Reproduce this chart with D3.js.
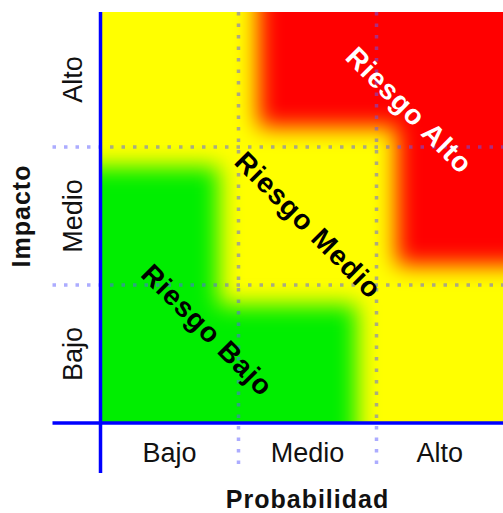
<!DOCTYPE html>
<html>
<head>
<meta charset="utf-8">
<script src="https://cdn.jsdelivr.net/npm/d3@7"></script>
<style>
  body { margin: 0; background: #fff; }
  svg { display: block; }
  text { font-family: "Liberation Sans", Arial, sans-serif; }
</style>
</head>
<body>
<svg id="chart"></svg>
<script>
// Probabilidad (x, left to right) and Impacto (y, top to bottom)
const probLevels = ["Bajo", "Medio", "Alto"];
const impactLevels = ["Alto", "Medio", "Bajo"];

// risk level per cell: rows = impacto (Alto..Bajo), cols = probabilidad (Bajo..Alto)
const riskMatrix = [
  ["Medio", "Alto", "Alto"],
  ["Bajo", "Medio", "Alto"],
  ["Bajo", "Bajo", "Medio"]
];

const riskLevels = ["Bajo", "Medio", "Alto"];
const riskLabels = ["Riesgo Bajo", "Riesgo Medio", "Riesgo Alto"];

const xTitle = "Probabilidad";
const yTitle = "Impacto";

const width = 503, height = 513;
const svg = d3.select("#chart").attr("width", width).attr("height", height);

const cell = 138;
const plot = { left: 100.5, top: 12, right: 503, bottom: 423 };

const x = d3.scaleBand().domain(probLevels).range([plot.left, plot.left + 3 * cell]);
const y = d3.scaleBand().domain(impactLevels).range([plot.bottom - 3 * cell, plot.bottom]);

const colors = { Bajo: "#00ee00", Medio: "#ffff00", Alto: "#ff0000" };

const defs = svg.append("defs");
defs.append("clipPath").attr("id", "plot-clip")
  .append("rect")
  .attr("x", plot.left).attr("y", plot.top)
  .attr("width", plot.right - plot.left).attr("height", plot.bottom - plot.top);

// shrink each colour zone away from its neighbours, then soften the edge
const soft = defs.append("filter").attr("id", "soft")
  .attr("filterUnits", "userSpaceOnUse")
  .attr("x", -200).attr("y", -200).attr("width", 900).attr("height", 900);
soft.append("feMorphology").attr("in", "SourceGraphic")
  .attr("operator", "erode").attr("radius", 21).attr("result", "er");
soft.append("feGaussianBlur").attr("in", "er").attr("stdDeviation", 11);

const cells = [];
riskMatrix.forEach((row, i) => row.forEach((level, j) => {
  cells.push({ prob: probLevels[j], impact: impactLevels[i], level, i, j });
}));

const field = svg.append("g").attr("clip-path", "url(#plot-clip)");

// background = middle risk
field.append("rect")
  .attr("x", x.range()[0]).attr("y", y.range()[0])
  .attr("width", x.range()[1] - x.range()[0])
  .attr("height", y.range()[1] - y.range()[0])
  .attr("fill", colors.Medio);

const ext = 80; // push outer cells past the plot edge so erosion doesn't show there
["Bajo", "Alto"].forEach(level => {
  field.append("g")
    .attr("filter", "url(#soft)")
    .selectAll("rect")
    .data(cells.filter(d => d.level === level))
    .join("rect")
    .attr("x", d => x(d.prob) - 1 - (d.j === 0 ? ext : 0))
    .attr("y", d => y(d.impact) - 1 - (d.i === 0 ? ext : 0))
    .attr("width", d => x.bandwidth() + 2 + (d.j === 0 ? ext : 0) + (d.j === 2 ? ext : 0))
    .attr("height", d => y.bandwidth() + 2 + (d.i === 0 ? ext : 0) + (d.i === 2 ? ext : 0))
    .attr("fill", colors[level]);
});

// dotted grid
const gridColor = "rgba(90,90,255,0.5)";
svg.append("g").selectAll("line")
  .data(probLevels.slice(1))
  .join("line")
  .attr("x1", d => x(d)).attr("x2", d => x(d))
  .attr("y1", plot.top).attr("y2", plot.bottom + 42)
  .attr("stroke", gridColor).attr("stroke-width", 3.5)
  .attr("stroke-dasharray", "3.5,8");

svg.append("g").selectAll("line")
  .data(impactLevels.slice(1))
  .join("line")
  .attr("x1", plot.left - 48).attr("x2", plot.right)
  .attr("y1", d => y(d)).attr("y2", d => y(d))
  .attr("stroke", gridColor).attr("stroke-width", 3.5)
  .attr("stroke-dasharray", "3.5,8");

// risk zone labels
const labelPos = {
  Bajo: { prob: "Bajo", impact: "Bajo", dx: 38, dy: -24, fill: "#000" },
  Medio: { prob: "Medio", impact: "Medio", dx: 1, dy: 9, fill: "#000" },
  Alto: { prob: "Alto", impact: "Alto", dx: -36, dy: 32, fill: "#fff" }
};
svg.append("g").selectAll("text")
  .data(riskLevels.map((lv, k) => ({ level: lv, label: riskLabels[k] })))
  .join("text")
  .attr("transform", d => {
    const p = labelPos[d.level];
    const cx = x(p.prob) + x.bandwidth() / 2 + p.dx;
    const cy = y(p.impact) + y.bandwidth() / 2 + p.dy;
    return `translate(${cx},${cy}) rotate(45)`;
  })
  .attr("text-anchor", "middle")
  .attr("dy", "0.35em")
  .attr("font-size", 28)
  .attr("font-weight", "bold")
  .attr("letter-spacing", 1)
  .attr("fill", d => labelPos[d.level].fill)
  .text(d => d.label);

// visible centre of a band (the last column / first row are cut by the frame)
const visX = d => (Math.max(x(d), plot.left) + Math.min(x(d) + x.bandwidth(), plot.right)) / 2;
const visY = d => (Math.max(y(d), plot.top) + Math.min(y(d) + y.bandwidth(), plot.bottom)) / 2;

svg.append("g").selectAll("text")
  .data(probLevels)
  .join("text")
  .attr("x", visX).attr("y", 462)
  .attr("text-anchor", "middle")
  .attr("font-size", 27)
  .attr("fill", "#111")
  .text(d => d);

svg.append("g").selectAll("text")
  .data(impactLevels)
  .join("text")
  .attr("transform", d => `translate(82,${visY(d)}) rotate(-90)`)
  .attr("text-anchor", "middle")
  .attr("font-size", 27)
  .attr("fill", "#111")
  .text(d => d);

// axis titles
svg.append("text")
  .attr("x", (x.range()[0] + x.range()[1]) / 2).attr("y", 508)
  .attr("text-anchor", "middle")
  .attr("font-size", 25).attr("font-weight", "bold").attr("letter-spacing", 1)
  .attr("fill", "#111")
  .text(xTitle);

svg.append("text")
  .attr("transform", `translate(30,${(y.range()[0] + y.range()[1]) / 2}) rotate(-90)`)
  .attr("text-anchor", "middle")
  .attr("font-size", 25).attr("font-weight", "bold").attr("letter-spacing", 1)
  .attr("fill", "#111")
  .text(yTitle);

// blue axes
svg.append("line")
  .attr("x1", plot.left).attr("x2", plot.left)
  .attr("y1", plot.top).attr("y2", plot.bottom + 50)
  .attr("stroke", "#0000ff").attr("stroke-width", 3.5);
svg.append("line")
  .attr("x1", plot.left - 48).attr("x2", plot.right)
  .attr("y1", plot.bottom).attr("y2", plot.bottom)
  .attr("stroke", "#0000ff").attr("stroke-width", 3.5);
</script>
</body>
</html>
